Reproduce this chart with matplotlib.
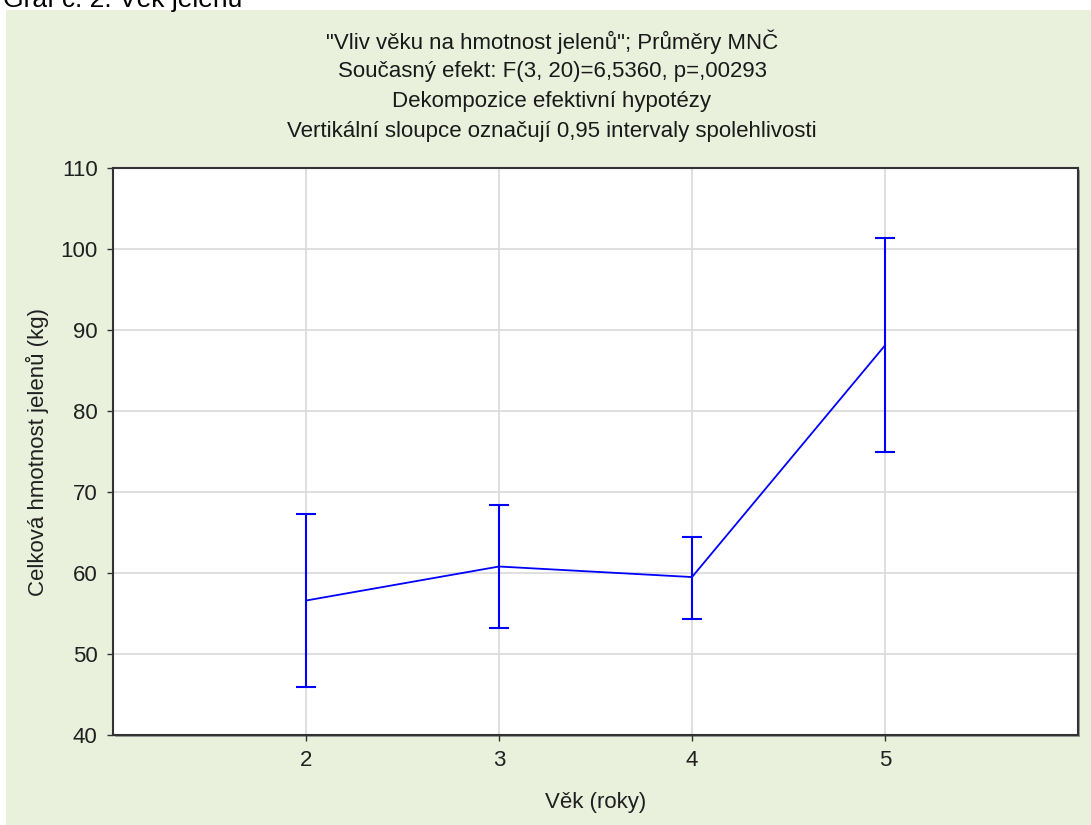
import matplotlib
matplotlib.use('Agg')
import matplotlib.pyplot as plt
from matplotlib.patches import Rectangle

plt.rcParams['font.family'] = ['Liberation Sans', 'DejaVu Sans']

# Průměry hmotnosti podle věku a 0,95 intervaly spolehlivosti
vek = [2, 3, 4, 5]
prumer = [56.6, 60.8, 59.5, 88.1]
dolni_mez = [45.9, 53.2, 54.3, 75.0]
horni_mez = [67.3, 68.4, 64.4, 101.3]

titulky = [
    '"Vliv věku na hmotnost jelenů"; Průměry MNČ',
    'Současný efekt: F(3, 20)=6,5360, p=,00293',
    'Dekompozice efektivní hypotézy',
    'Vertikální sloupce označují 0,95 intervaly spolehlivosti',
]
y_ticks = [40, 50, 60, 70, 80, 90, 100, 110]

W, H = 1091, 825
fig = plt.figure(figsize=(W / 100, H / 100), dpi=100, facecolor='white')

# zelený podklad grafu
fig.patches.append(Rectangle((6 / W, 0), 1 - 6 / W, 1 - 10 / H, transform=fig.transFigure,
                             facecolor='#E9F0DC', edgecolor='none', zorder=-2))

fig.text(3 / W, 1 - 7 / H, 'Graf č. 2: Věk jelenů', fontsize=19, color='black',
         ha='left', va='baseline')

ax = fig.add_axes([113 / W, 1 - 735 / H, (1078 - 113) / W, (735 - 168) / H])

# stín rámečku
fig.patches.append(Rectangle(((113 + 2) / W, 1 - (735 + 2) / H), (1078 - 113) / W, (735 - 168) / H,
                             transform=fig.transFigure, facecolor='#9a9a9a', edgecolor='none', zorder=-1))

err_lo = [m - d for m, d in zip(prumer, dolni_mez)]
err_hi = [h - m for m, h in zip(prumer, horni_mez)]
ax.errorbar(vek, prumer, yerr=[err_lo, err_hi], color='#0000FF', linewidth=1.3,
            elinewidth=1.5, capsize=7, capthick=1.5, zorder=3)

ax.set_xlim(1, 6)
ax.set_ylim(40, 110)
ax.set_xticks(vek)
ax.set_yticks(y_ticks)
ax.grid(True, color='#D9D9D9', linewidth=1.2)
ax.set_axisbelow(True)
ax.set_facecolor('white')
for s in ax.spines.values():
    s.set_color('#333333')
    s.set_linewidth(1.5)
ax.tick_params(direction='out', length=4, width=1, color='#333333',
               labelsize=16, labelcolor='#202020', pad=7)

ax.set_xlabel('Věk (roky)', fontsize=16, color='#202020', labelpad=15)
ax.set_ylabel('Celková hmotnost jelenů (kg)', fontsize=16, color='#202020', labelpad=8)

for i, t in enumerate(titulky):
    fig.text(552 / W, 1 - (42 + i * 30) / H, t, fontsize=16, color='#1a1a1a',
             ha='center', va='center')

fig.savefig('out.png', dpi=100, facecolor=fig.get_facecolor())
